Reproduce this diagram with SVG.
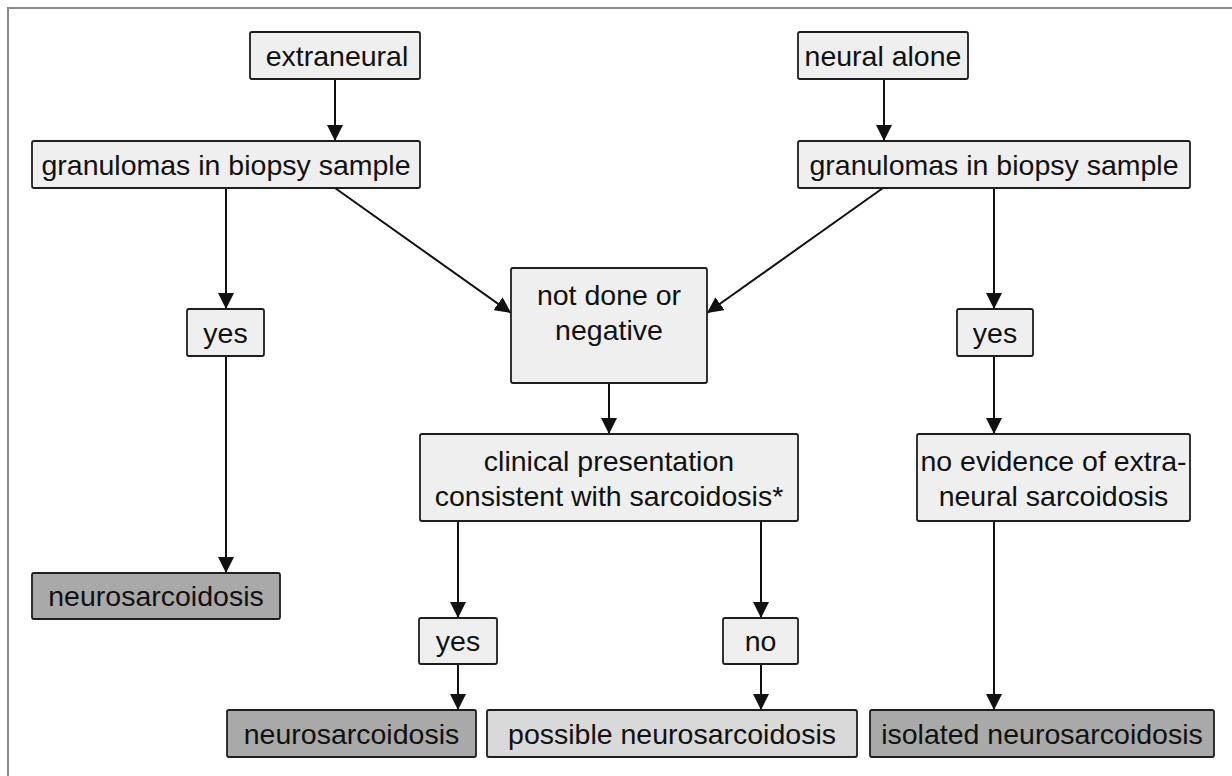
<svg xmlns="http://www.w3.org/2000/svg" width="1232" height="776" viewBox="0 0 1232 776">
<style>
.box{fill:#efefef;stroke:#1e1e1e;stroke-width:1.8}
.dark{fill:#a9a9a9;stroke:#1e1e1e;stroke-width:1.8}
.mid{fill:#d9d9d9;stroke:#1e1e1e;stroke-width:1.8}
text{font-family:"Liberation Sans",Arial,sans-serif;font-size:28.5px;fill:#111;text-anchor:middle}
.conn line{stroke:#111;stroke-width:2}
</style>
<defs>
<marker id="ah" viewBox="0 0 10 10" refX="10" refY="5" markerWidth="16" markerHeight="16" markerUnits="userSpaceOnUse" orient="auto">
<path d="M0,0 L10,5 L0,10 z" fill="#111"/>
</marker>
</defs>
<rect width="1232" height="776" fill="#fff"/>
<path d="M8,776 L8,8 L1232,8" fill="none" stroke="#8a8a8a" stroke-width="2"/>
<g class="conn">
<line x1="335" y1="79" x2="335" y2="141" marker-end="url(#ah)"/>
<line x1="884" y1="79" x2="884" y2="141" marker-end="url(#ah)"/>
<line x1="226" y1="188" x2="226" y2="309" marker-end="url(#ah)"/>
<line x1="335" y1="188" x2="511" y2="313" marker-end="url(#ah)"/>
<line x1="883" y1="188" x2="707" y2="313" marker-end="url(#ah)"/>
<line x1="994" y1="188" x2="994" y2="309" marker-end="url(#ah)"/>
<line x1="226" y1="356" x2="226" y2="573" marker-end="url(#ah)"/>
<line x1="609" y1="383" x2="609" y2="434" marker-end="url(#ah)"/>
<line x1="994" y1="356" x2="994" y2="434" marker-end="url(#ah)"/>
<line x1="458" y1="521" x2="458" y2="618" marker-end="url(#ah)"/>
<line x1="761" y1="521" x2="761" y2="618" marker-end="url(#ah)"/>
<line x1="458" y1="664" x2="458" y2="710" marker-end="url(#ah)"/>
<line x1="761" y1="664" x2="761" y2="710" marker-end="url(#ah)"/>
<line x1="994" y1="521" x2="994" y2="710" marker-end="url(#ah)"/>
</g>
<g id="extraneural"><rect class="box" x="250" y="32" width="170" height="47" rx="2"/><text x="337" y="65.5">extraneural</text></g>
<g id="neural-alone"><rect class="box" x="798" y="32" width="170" height="47" rx="2"/><text x="883" y="65.5">neural alone</text></g>
<g id="granulomas-left"><rect class="box" x="32" y="141" width="388" height="47" rx="2"/><text x="226" y="174.5">granulomas in biopsy sample</text></g>
<g id="granulomas-right"><rect class="box" x="798" y="141" width="392" height="47" rx="2"/><text x="994" y="174.5">granulomas in biopsy sample</text></g>
<g id="not-done"><rect class="box" x="511" y="268" width="196" height="115" rx="2"/><text x="609" y="305">not done or</text><text x="609" y="340">negative</text></g>
<g id="yes-left"><rect class="box" x="187" y="309" width="77" height="47" rx="2"/><text x="225.5" y="342.5">yes</text></g>
<g id="yes-right"><rect class="box" x="957" y="309" width="76" height="47" rx="2"/><text x="995" y="342.5">yes</text></g>
<g id="clinical"><rect class="box" x="420" y="434" width="378" height="87" rx="2"/><text x="609" y="471">clinical presentation</text><text x="609" y="506">consistent with sarcoidosis*</text></g>
<g id="no-evidence"><rect class="box" x="917" y="434" width="273" height="87" rx="2"/><text x="1053.5" y="471">no evidence of extra-</text><text x="1053.5" y="506">neural sarcoidosis</text></g>
<g id="neurosarcoidosis-left"><rect class="dark" x="32" y="573" width="248" height="46" rx="2"/><text x="156" y="606">neurosarcoidosis</text></g>
<g id="yes-mid"><rect class="box" x="419" y="618" width="78" height="46" rx="2"/><text x="458" y="651">yes</text></g>
<g id="no-mid"><rect class="box" x="723" y="618" width="75" height="46" rx="2"/><text x="760.5" y="651">no</text></g>
<g id="neurosarcoidosis-mid"><rect class="dark" x="227" y="710" width="249" height="47" rx="2"/><text x="351.5" y="743.5">neurosarcoidosis</text></g>
<g id="possible"><rect class="mid" x="487" y="710" width="370" height="47" rx="2"/><text x="672" y="743.5">possible neurosarcoidosis</text></g>
<g id="isolated"><rect class="dark" x="870" y="710" width="344" height="47" rx="2"/><text x="1042" y="743.5">isolated neurosarcoidosis</text></g>
</svg>
